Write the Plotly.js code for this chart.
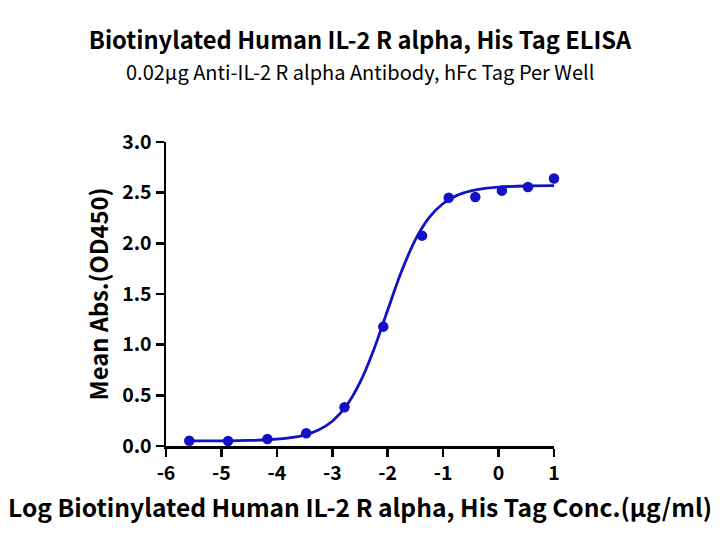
<!DOCTYPE html>
<html>
<head>
<meta charset="utf-8">
<script src="https://cdn.plot.ly/plotly-3.0.1.min.js"></script>
<style>html,body{margin:0;padding:0;background:#fff;}#chart{width:720px;height:547px;}</style>
</head>
<body>
<div id="chart"></div>
<script>
// Measured points (log concentration, mean OD450)
const logConc = [-5.58, -4.88, -4.17, -3.47, -2.78, -2.08, -1.38, -0.90, -0.42, 0.06, 0.53, 1.00];
const meanAbs = [0.052, 0.050, 0.069, 0.125, 0.382, 1.178, 2.076, 2.450, 2.457, 2.520, 2.556, 2.640];
// Fitted curve
const curveX = [-5.58, -5.0, -4.5, -4.0, -3.5, -3.25, -3.0, -2.75, -2.5, -2.25, -2.0, -1.75, -1.5, -1.25, -1.0, -0.75, -0.5, -0.25, 0.0, 0.5, 1.0];
const curveY = [0.050, 0.051, 0.055, 0.067, 0.108, 0.157, 0.244, 0.393, 0.627, 0.953, 1.342, 1.724, 2.037, 2.256, 2.393, 2.473, 2.517, 2.542, 2.555, 2.566, 2.569];
const xTickVals = [-6, -5, -4, -3, -2, -1, 0, 1];
const xTickText = ['-6', '-5', '-4', '-3', '-2', '-1', '0', '1'];
const yTickVals = [0, 0.5, 1, 1.5, 2, 2.5, 3];
const yTickText = ['0.0', '0.5', '1.0', '1.5', '2.0', '2.5', '3.0'];

const blue = 'rgb(18,18,196)';
const fontFam = '"Noto Sans CJK SC", "Noto Sans", sans-serif';

const traces = [
  {x: curveX, y: curveY, mode: 'lines', line: {color: blue, width: 2.8, shape: 'spline', smoothing: 1}, hoverinfo: 'skip', cliponaxis: false},
  {x: logConc, y: meanAbs, mode: 'markers', marker: {color: blue, size: 10.5}, cliponaxis: false}
];

const layout = {
  width: 720, height: 547,
  margin: {l: 166, r: 166, t: 142, b: 101},
  paper_bgcolor: '#fff', plot_bgcolor: '#fff',
  showlegend: false,
  font: {family: fontFam, color: '#000'},
  title: {text: '<b>Biotinylated Human IL-2 R alpha, His Tag ELISA</b>', x: 0.5, xanchor: 'center', xref: 'paper', yref: 'container', y: 1 - 41/547, yanchor: 'middle', font: {size: 23.7, family: fontFam, color: '#000'}},
  annotations: [
    {text: '0.02μg Anti-IL-2 R alpha Antibody, hFc Tag Per Well', xref: 'paper', yref: 'paper', x: 0.5, y: 1 + (142-71)/304, xanchor: 'center', yanchor: 'middle', showarrow: false, font: {size: 20, family: fontFam, color: '#000'}}
  ],
  xaxis: {
    range: [-6, 1], tickvals: xTickVals, ticktext: xTickText,
    showline: true, linecolor: '#000', linewidth: 2.5, showgrid: false, zeroline: false,
    ticks: 'outside', ticklen: 8, tickwidth: 2.5, tickcolor: '#000',
    tickfont: {size: 19.5, family: fontFam, color: '#000', weight: 'bold'},
    title: {text: '<b>Log Biotinylated Human IL-2 R alpha, His Tag Conc.(μg/ml)</b>', font: {size: 24.6, family: fontFam, color: '#000'}, standoff: 15}
  },
  yaxis: {
    range: [0, 3], tickvals: yTickVals, ticktext: yTickText,
    showline: true, linecolor: '#000', linewidth: 2.5, showgrid: false, zeroline: false,
    ticks: 'outside', ticklen: 8, tickwidth: 2.5, tickcolor: '#000',
    tickfont: {size: 19.5, family: fontFam, color: '#000', weight: 'bold'},
    title: {text: '<b>Mean Abs.(OD450)</b>', font: {size: 23.7, family: fontFam, color: '#000'}, standoff: 7}
  }
};

Plotly.newPlot('chart', traces, layout, {displayModeBar: false, staticPlot: true});
</script>
</body>
</html>
